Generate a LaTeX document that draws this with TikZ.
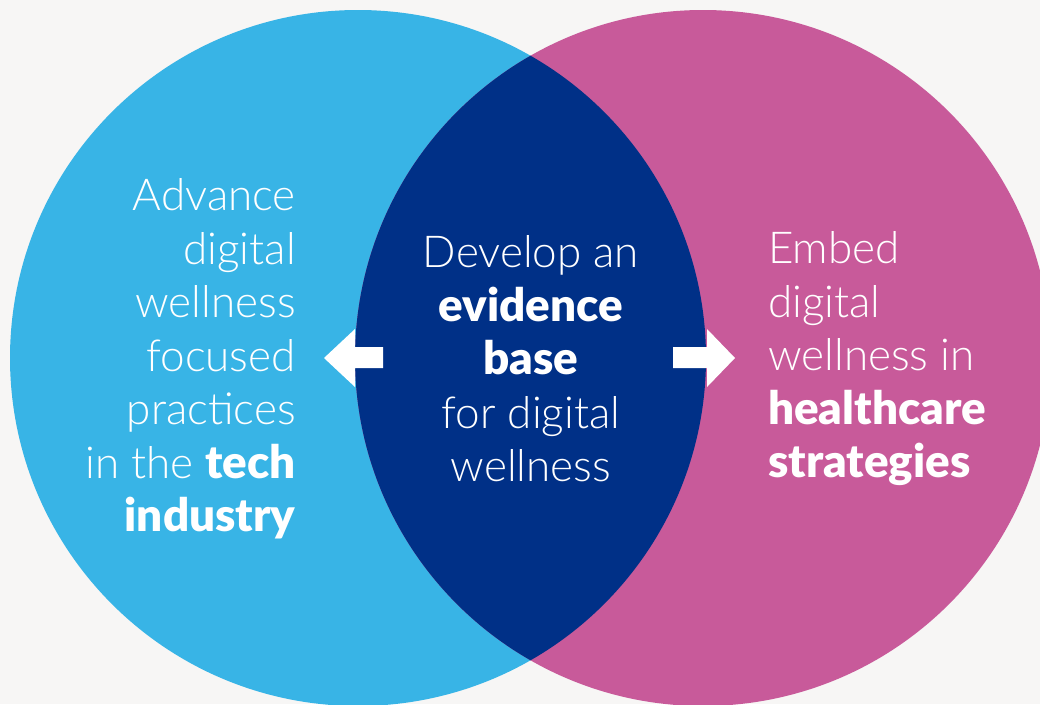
\documentclass[tikz,border=0pt]{standalone}
\usepackage{fontspec}
\setmainfont{Lato}[UprightFont={* Light},BoldFont={* Black},BoldFeatures={Scale=1.04}]
\definecolor{bg}{HTML}{F7F6F5}
\definecolor{cblue}{HTML}{38B4E6}
\definecolor{cpink}{HTML}{C85A9A}
\definecolor{cnavy}{HTML}{003087}
\tikzset{
  venn/.style={circle, minimum size=696pt, inner sep=0pt, draw=none},
  vtext/.style={text=white, inner sep=0pt, font=\fontsize{44}{53.5}\selectfont},
  arrowshape/.style={fill=white, draw=none}
}
\begin{document}
\begin{tikzpicture}[x=1pt,y=-1pt]
\useasboundingbox (0,0) rectangle (1040,704);
\fill[bg] (0,0) rectangle (1040,704);
\node[venn, fill=cblue] (L) at (358,358) {};
\node[venn, fill=cpink] (R) at (703,358) {};
\begin{scope}
  \clip (358,358) circle[radius=348];
  \fill[cnavy] (703,358) circle[radius=348];
\end{scope}
% arrows
\fill[arrowshape] (383,347) -- (355,347) -- (355,329) -- (324,358) -- (355,387) -- (355,368) -- (383,368) -- cycle;
\fill[arrowshape] (673,347) -- (707,347) -- (707,329) -- (735,358) -- (707,387) -- (707,368) -- (673,368) -- cycle;
\node[vtext, align=right, anchor=east] (lt) at (296,359) {Advance\\digital\\wellness\\focused\\practices\\in the \textbf{tech}\\\textbf{industry}};
\node[vtext, align=center] (ct) at (531,359) {Develop an\\\textbf{evidence}\\\textbf{base}\\for digital\\wellness};
\node[vtext, align=left, anchor=west] (rt) at (768,359) {Embed\\digital\\wellness in\\\textbf{healthcare}\\\textbf{strategies}};
\end{tikzpicture}
\end{document}
